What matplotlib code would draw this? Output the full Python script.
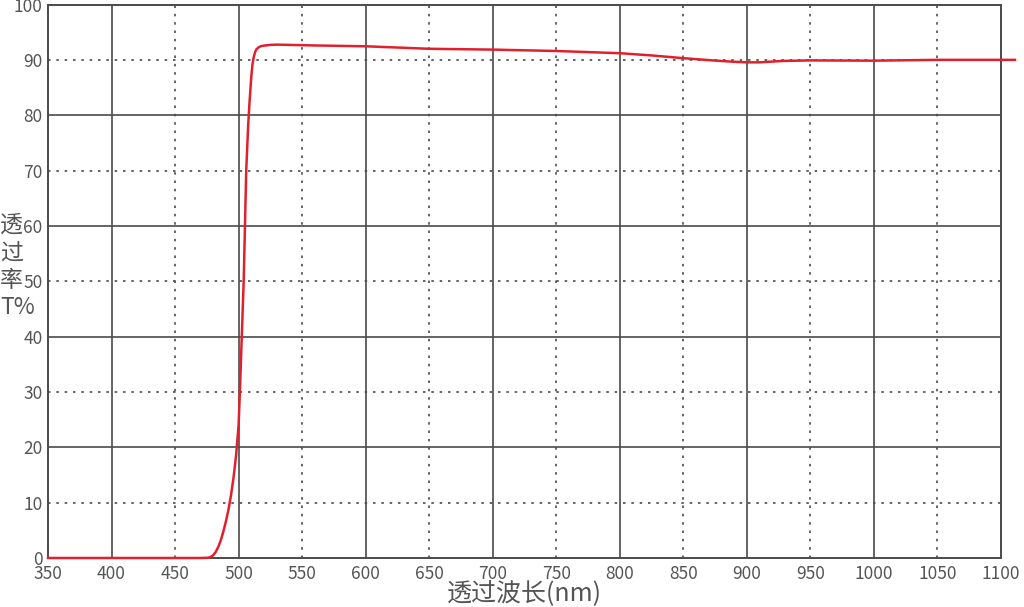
import matplotlib
matplotlib.use("Agg")
from matplotlib import pyplot as plt

plt.rcParams['font.family'] = ['Noto Sans CJK SC', 'DejaVu Sans']

# wavelength (nm) and transmittance (%)
wavelength = [350, 400, 450, 470, 476, 478, 480, 482, 484, 486, 488, 490, 492, 494,
              496, 498, 500, 501, 502.5, 504, 505, 506, 507.5, 508.5, 510, 511, 512,
              513, 514, 516, 518, 521, 525, 530, 540, 560, 600, 650, 700, 750, 800,
              825, 850, 873, 890, 900, 910, 928, 950, 1000, 1050, 1100, 1111]
transmittance = [0, 0, 0, 0, 0.05, 0.2, 0.5, 1.1, 2.0, 3.2, 4.8, 6.6, 8.7, 11.3,
                 14.5, 18.5, 24, 30, 40, 50, 60, 70, 78, 82, 87, 89.3, 90.6,
                 91.4, 91.9, 92.3, 92.5, 92.6, 92.7, 92.75, 92.7, 92.6, 92.45, 92.0, 91.85, 91.6, 91.2,
                 90.8, 90.3, 89.9, 89.65, 89.55, 89.55, 89.8, 89.9, 89.85, 90.0, 90.0, 90.0]

x_ticks = list(range(350, 1101, 50))
y_ticks = list(range(0, 101, 10))
x_major = [400, 500, 600, 700, 800, 900, 1000]
x_minor = [450, 550, 650, 750, 850, 950, 1050]
y_major = [20, 40, 60, 80]
y_minor = [10, 30, 50, 70, 90]

grid_color = "#4a4a4a"
text_color = "#555555"

fig = plt.figure(figsize=(10.24, 6.07), dpi=100)
ax = fig.add_axes([48 / 1024, 49 / 607, 953 / 1024, 553.5 / 607])

for x in x_major:
    ax.axvline(x, color=grid_color, lw=1.2, zorder=1)
for x in x_minor:
    ax.axvline(x, color=grid_color, lw=1.2, ls=(0, (1.5, 3.5)), zorder=1)
for y in y_major:
    ax.axhline(y, color=grid_color, lw=1.2, zorder=1)
for y in y_minor:
    ax.axhline(y, color=grid_color, lw=1.2, ls=(0, (1.5, 3.5)), zorder=1)

ax.plot(wavelength, transmittance, color="#e0202c", lw=1.8, zorder=3, clip_on=False)

ax.set_xlim(350, 1100)
ax.set_ylim(0, 100)
ax.set_xticks(x_ticks)
ax.set_yticks(y_ticks)
ax.tick_params(length=0, labelsize=12.5, colors=text_color, pad=4)
ax.tick_params(axis="x", pad=5)
for lab in ax.get_xticklabels() + ax.get_yticklabels():
    lab.set_fontweight("light")
    lab.set_color(text_color)

for s in ax.spines.values():
    s.set_color(grid_color)
    s.set_linewidth(1.4)

ax.set_xlabel("透过波长(nm)", fontsize=18, color=text_color, labelpad=-1.5, fontweight="light")
fig.text(0.0, 0.561, "透\n过\n率\nT%", fontsize=16.5, color=text_color, ha="left", va="center",
         linespacing=1.25, fontweight="light")

fig.savefig("out.png", dpi=100)
